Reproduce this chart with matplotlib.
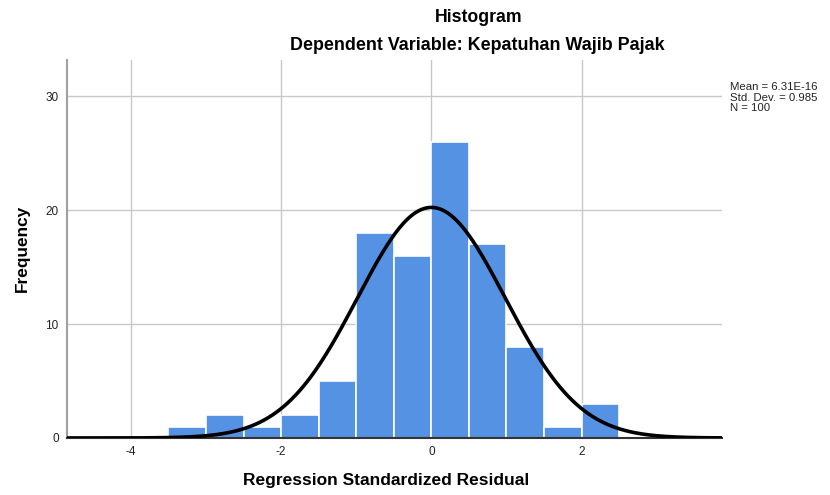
import numpy as np
import matplotlib
matplotlib.use("Agg")
import matplotlib.pyplot as plt

bin_edges = [-3.5, -3.0, -2.5, -2.0, -1.5, -1.0, -0.5, 0.0, 0.5, 1.0, 1.5, 2.0, 2.5]
counts = [1, 2, 1, 2, 5, 18, 16, 26, 17, 8, 1, 3]
mean = 6.31e-16
std = 0.985
n = 100
xticks = [-4, -2, 0, 2]
yticks = [0, 10, 20, 30]

plt.rcParams['font.family'] = ['Liberation Sans', 'DejaVu Sans']
plt.rcParams['axes.unicode_minus'] = False

fig = plt.figure(figsize=(8.3, 4.95), dpi=100)
ax = fig.add_axes([0.0807, 0.1152, 0.7893, 0.7636])

lefts = np.array(bin_edges[:-1])
widths = np.diff(bin_edges)
ax.bar(lefts, counts, width=widths, align='edge', color='#5592e3',
       edgecolor='white', linewidth=1.2, zorder=2)

xs = np.linspace(-4.85, 3.87, 500)
bw = widths[0]
ys = n * bw * np.exp(-0.5 * ((xs - mean) / std) ** 2) / (std * np.sqrt(2 * np.pi))
ax.plot(xs, ys, color='black', linewidth=2.6, zorder=3)

ax.set_xlim(-4.85, 3.87)
ax.set_ylim(0, 33.2)
ax.set_xticks(xticks)
ax.set_yticks(yticks)
ax.tick_params(length=0, labelsize=8.5, colors='#222222', pad=6)
ax.grid(True, color='#c8c8c8', linewidth=1.0, zorder=0)
ax.set_axisbelow(True)
for s in ['top', 'right']:
    ax.spines[s].set_visible(False)
ax.spines['left'].set_color('#a0a0a0')
ax.spines['left'].set_linewidth(1.5)
ax.spines['bottom'].set_color('#333333')
ax.spines['bottom'].set_linewidth(1.5)

fig.text(386 / 830, 1 - 481 / 495, 'Regression Standardized Residual', ha='center', va='center',
         fontsize=12.5, fontweight='bold')
fig.text(22 / 830, 1 - 248 / 495, 'Frequency', ha='center', va='center', rotation=90,
         fontsize=12.4, fontweight='bold')

fig.text(479 / 830, 1 - 17 / 495, 'Histogram', ha='center', va='center', fontsize=12.7, fontweight='bold')
fig.text(477 / 830, 1 - 46 / 495, 'Dependent Variable: Kepatuhan Wajib Pajak', ha='center', va='center',
         fontsize=12.9, fontweight='bold')
fig.text(730 / 830, 1 - 82 / 495, 'Mean = 6.31E-16\nStd. Dev. = 0.985\nN = 100', ha='left', va='top',
         fontsize=8.2, linespacing=1.08, color='#222222')

fig.savefig('out.png', dpi=100, facecolor='white')
